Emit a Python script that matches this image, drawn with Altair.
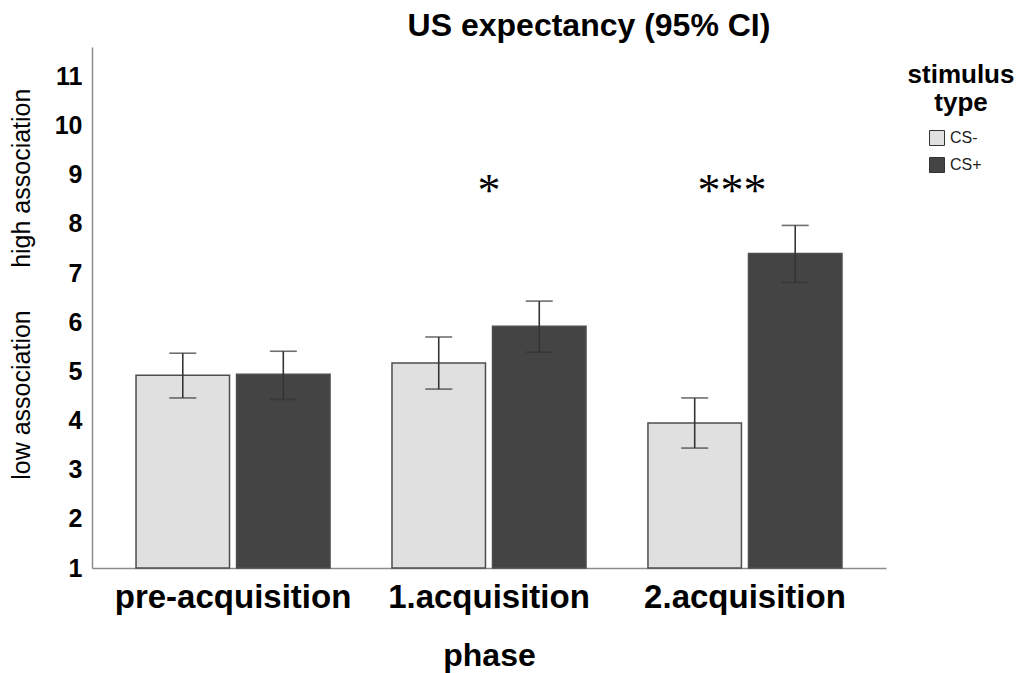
import altair as alt
import pandas as pd

phases = ["pre-acquisition", "1.acquisition", "2.acquisition"]
stimulus = ["CS-", "CS+"]
cs_minus_mean = [4.92, 5.17, 3.95]
cs_minus_low = [4.46, 4.64, 3.44]
cs_minus_high = [5.37, 5.70, 4.46]
cs_plus_mean = [4.94, 5.92, 7.40]
cs_plus_low = [4.43, 5.39, 6.81]
cs_plus_high = [5.41, 6.43, 7.97]
y_ticks = list(range(1, 12))
sig_phase = ["1.acquisition", "2.acquisition"]
sig_text = ["*", "***"]
sig_y = [8.36, 8.36]
side_text = ["high association", "low association"]
side_y = [8.93, 4.52]

rows = []
for i, p in enumerate(phases):
    rows.append(dict(phase=p, stim="CS-", mean=cs_minus_mean[i], lo=cs_minus_low[i], hi=cs_minus_high[i]))
    rows.append(dict(phase=p, stim="CS+", mean=cs_plus_mean[i], lo=cs_plus_low[i], hi=cs_plus_high[i]))
df = pd.DataFrame(rows)
sig_df = pd.DataFrame(dict(phase=sig_phase, label=sig_text, y=sig_y))
side_df = pd.DataFrame(dict(label=side_text, y=side_y))

FONT = "Liberation Sans"
AX = "#8c8c8c"

x_scale = alt.Scale(domain=phases, paddingInner=0.242, paddingOuter=0.172)
x_axis = alt.Axis(title="phase", labelAngle=0, labelFontSize=33, labelFontWeight="bold",
                  titleFontSize=32, titleFontWeight="bold", ticks=False, domainColor=AX,
                  domainWidth=1.5, labelPadding=13, titleY=97, titleBaseline="alphabetic",
                  labelColor="black", titleColor="black", grid=False, labelLimit=0)
y_scale = alt.Scale(domain=[1, 11.6], nice=False, zero=False)
y_axis = alt.Axis(title=None, values=y_ticks, ticks=False, grid=False, labelFontSize=25,
                  labelFontWeight="bold", labelPadding=10, domainColor=AX, domainWidth=1.5,
                  labelColor="black")

def X():
    return alt.X("phase:N", sort=phases, scale=x_scale, axis=x_axis)

def XO():
    return alt.XOffset("stim:N", sort=stimulus, scale=alt.Scale(domain=stimulus, paddingInner=0.07, paddingOuter=0))

bars = alt.Chart(df).mark_bar(stroke="#4d4d4d", strokeWidth=1.5).encode(
    x=X(), xOffset=XO(),
    y=alt.Y("mean:Q", scale=y_scale, axis=y_axis),
    y2=alt.datum(1),
    color=alt.Color("stim:N", sort=stimulus, title=["stimulus", "type"],
                    scale=alt.Scale(domain=stimulus, range=["#e0e0e0", "#444444"]),
                    legend=alt.Legend(orient="none", legendX=816, legendY=15,
                                      titleFontSize=26, titleFontWeight="bold", titleAnchor="middle",
                                      titleAlign="center", titleLineHeight=28, titlePadding=14,
                                      titleColor="black", symbolType="square", symbolSize=225,
                                      symbolStrokeColor="#333333", symbolStrokeWidth=1,
                                      symbolOffset=-12, labelFontSize=16, labelOffset=5,
                                      rowPadding=7, labelColor="#222222", labelFont=FONT,
                                      titleFont=FONT)),
)

err = alt.Chart(df).mark_rule(color="#333333", strokeWidth=1.6).encode(
    x=X(), xOffset=XO(),
    y=alt.Y("lo:Q", scale=y_scale, axis=y_axis), y2="hi:Q")
cap_hi = alt.Chart(df).mark_tick(color="#333333", thickness=1.6, size=27).encode(
    x=X(), xOffset=XO(), y=alt.Y("hi:Q", scale=y_scale, axis=y_axis))
cap_lo = alt.Chart(df).mark_tick(color="#333333", thickness=1.6, size=27).encode(
    x=X(), xOffset=XO(), y=alt.Y("lo:Q", scale=y_scale, axis=y_axis))

star1 = alt.Chart(sig_df).transform_filter(alt.datum.label == "*").mark_text(
    font="Liberation Serif", fontSize=46, align="center", baseline="alphabetic", color="black").encode(
    x=X(), y=alt.Y("y:Q", scale=y_scale, axis=y_axis), text="label:N")
star3 = alt.Chart(sig_df).transform_filter(alt.datum.label == "***").mark_text(
    font="Liberation Serif", fontSize=46, align="center", baseline="alphabetic", color="black", dx=-13).encode(
    x=X(), y=alt.Y("y:Q", scale=y_scale, axis=y_axis), text="label:N")

side = alt.Chart(side_df).mark_text(font=FONT, fontSize=25, angle=270, align="center",
                                    baseline="middle", color="black").encode(
    x=alt.value(-70), y=alt.Y("y:Q", scale=y_scale, axis=y_axis), text="label:N")

chart = alt.layer(bars, err, cap_hi, cap_lo, star1, star3, side).properties(
    width=794, height=521,
    padding={"left": 84, "top": 39, "right": 128, "bottom": 105},
    autosize=alt.AutoSizeParams(type="none"),
    title=alt.TitleParams("US expectancy (95% CI)", fontSize=32, fontWeight="bold", font=FONT,
                          anchor="middle", frame="group", dx=100, offset=4, color="black"),
).configure(font=FONT).configure_view(stroke=None)

chart.save("out.html", embed_options={"renderer": "svg", "actions": False})
